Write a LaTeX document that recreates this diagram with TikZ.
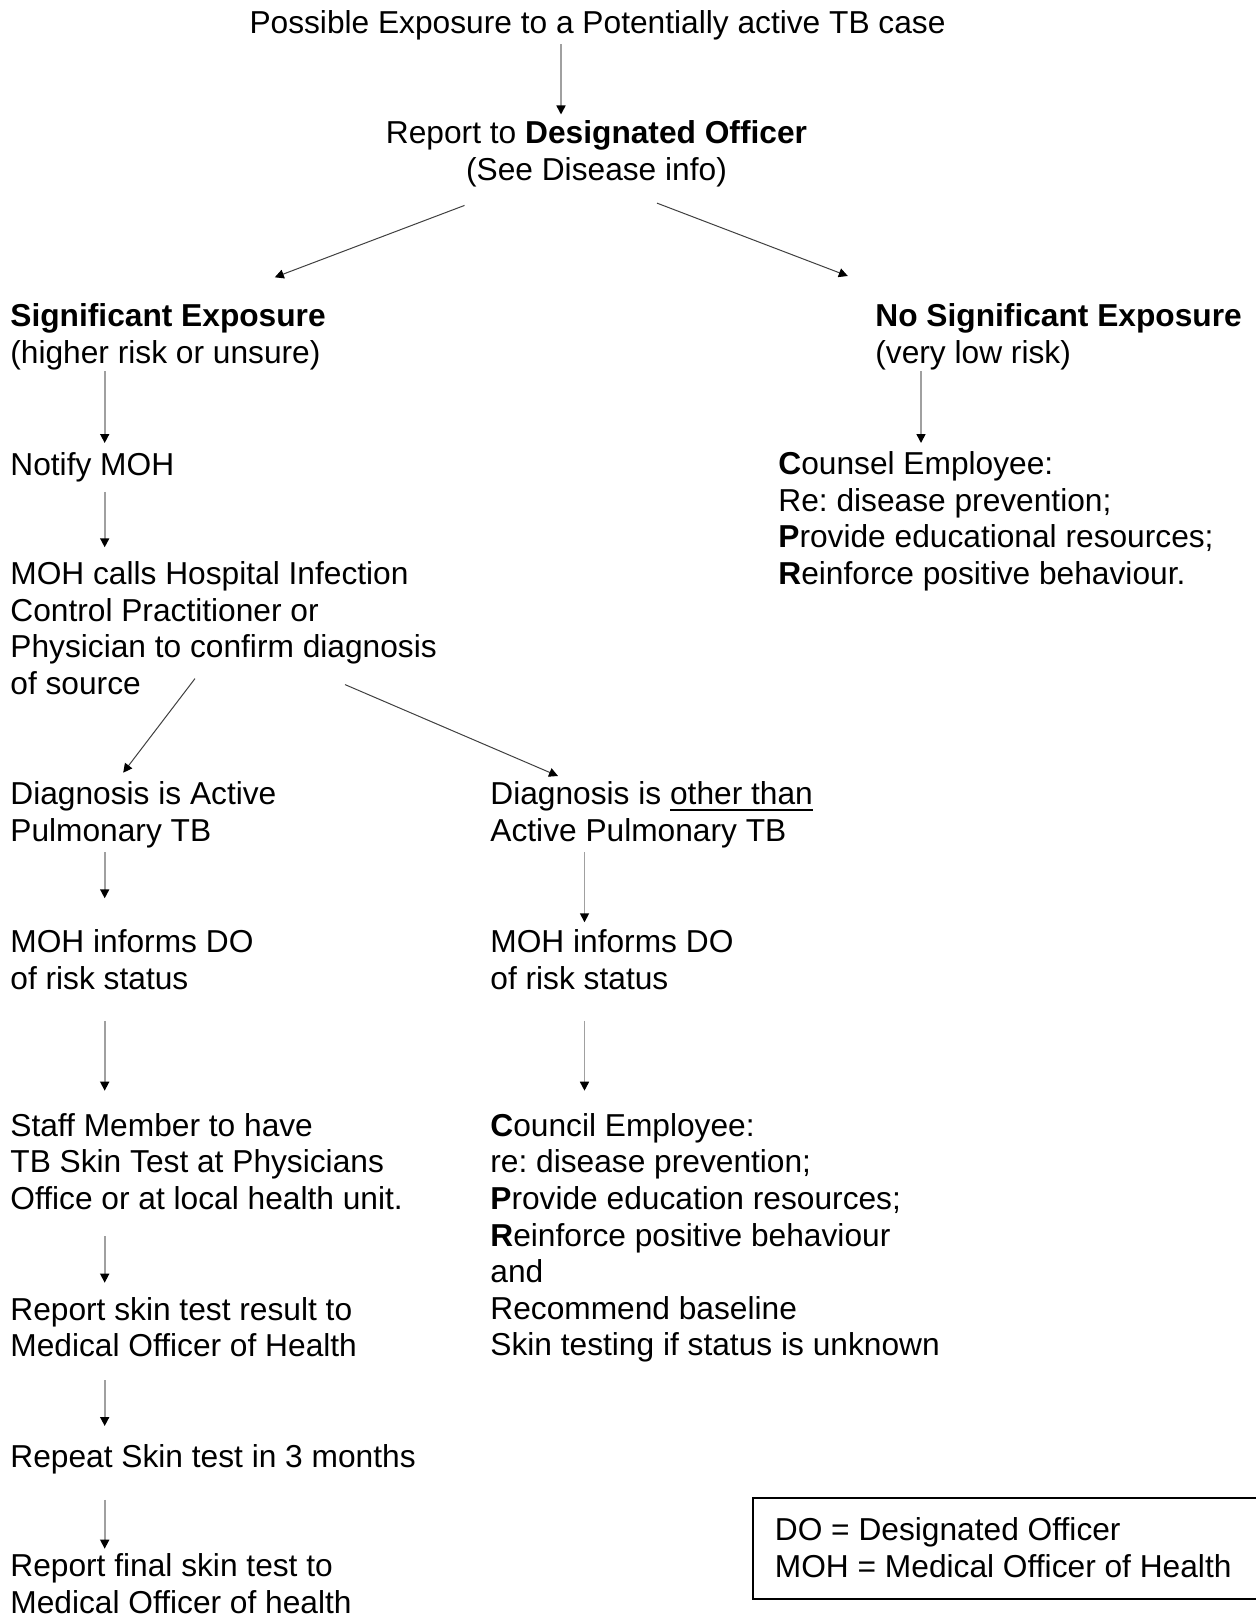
\documentclass[tikz,border=0pt]{standalone}
\usepackage{fontspec}
\setmainfont{Liberation Sans}
\usetikzlibrary{arrows.meta,calc}
% underline with a slightly heavier, lower rule
\newcommand\undl[1]{\setbox0\hbox{#1}\rlap{\rule[-3.1pt]{\wd0}{1pt}}\box0}
\frenchspacing
\begin{document}
\begin{tikzpicture}[x=0.5pt,y=-0.5pt,
  txt/.style={inner sep=0pt, align=left, anchor=north west,
    font=\fontsize{15.85}{18.3}\selectfont},
  ctxt/.style={txt, align=center, anchor=north},
  tip/.style={-{Triangle[length=4.5pt,width=4.5pt,color=black]}},
  vlink/.style={tip, draw={rgb,255:red,160;green,160;blue,160}, line width=0.8pt},
  dlink/.style={tip, draw=black!75, line width=0.5pt},
  keybox/.style={draw=black, line width=1pt}]

\fill[white] (0,0) rectangle (1256,1616);
\useasboundingbox (0,0) rectangle (1256,1616);

% column positions of the vertical connectors
\coordinate (cT) at (561,0);
\coordinate (cA) at (104.7,0);
\coordinate (cB) at (584.5,0);
\coordinate (cC) at (921,0);

% text blocks
\node[ctxt] (top) at (597.5,10.3) {Possible Exposure to a Potentially active TB case};
\node[ctxt] (report) at (596.5,120.2) {Report to \textbf{Designated Officer}\\(See Disease info)};

\node[txt] (se) at (10,303.2) {\textbf{Significant Exposure}\\(higher risk or unsure)};
\node[txt] (nse) at (875,303.2) {\textbf{No Significant Exposure}\\(very low risk)};

\node[txt] (notify) at (10,452.2) {Notify MOH};
\node[txt] (counsel) at (778,451.2) {\textbf{C}ounsel Employee:\\Re: disease prevention;\\\textbf{P}rovide educational resources;\\\textbf{R}einforce positive behaviour.};

\node[txt] (mohcalls) at (10,561.2) {MOH calls Hospital Infection\\Control Practitioner or\\Physician to confirm diagnosis\\of source};

\node[txt] (diagA) at (10,781.2) {Diagnosis is Active\\Pulmonary TB};
\node[txt] (diagB) at (490,781.2) {Diagnosis is \undl{other than}\\Active Pulmonary TB};

\node[txt] (mohinfA) at (10,929.2) {MOH informs DO\\of risk status};
\node[txt] (mohinfB) at (490,929.2) {MOH informs DO\\of risk status};

\node[txt] (staff) at (10,1112.9) {Staff Member to have\\TB Skin Test at Physicians\\Office or at local health unit.};
\node[txt] (council) at (490,1112.9) {\textbf{C}ouncil Employee:\\re: disease prevention;\\\textbf{P}rovide education resources;\\\textbf{R}einforce positive behaviour\\and\\Recommend baseline\\Skin testing if status is unknown};

\node[txt] (reportskin) at (10,1296.7) {Report skin test result to\\Medical Officer of Health};
\node[txt] (repeat) at (10,1444.2) {Repeat Skin test in 3 months};
\node[txt] (final) at (10,1553.2) {Report final skin test to\\Medical Officer of health};

\node[txt] (legend) at (774.5,1517.2) {DO = Designated Officer\\MOH = Medical Officer of Health};

% key frame, open on the right
\draw[keybox] ($(legend.north west)+(487.5,-18.9)$) -- ($(legend.north west)+(-22,-18.9)$)
  -- ($(legend.south west)+(-22,20.7)$) -- ($(legend.south west)+(487.5,20.7)$);

% vertical connectors
\draw[vlink] ($(top.south -| cT)+(0,3.6)$) -- ($(report.north -| cT)+(0,-5.7)$);
\draw[vlink] ($(se.south -| cA)+(0,1.3)$) -- ($(notify.north -| cA)+(0,-9.2)$);
\draw[vlink] ($(nse.south -| cC)+(0,1.3)$) -- ($(counsel.north -| cC)+(0,-8.2)$);
\draw[vlink] ($(notify.south -| cA)+(0,9.3)$) -- ($(mohcalls.north -| cA)+(0,-13.9)$);
\draw[vlink] ($(diagA.south -| cA)+(0,4)$) -- ($(mohinfA.north -| cA)+(0,-30.9)$);
\draw[vlink] ($(diagB.south -| cB)+(0,4)$) -- ($(mohinfB.north -| cB)+(0,-6.9)$);
\draw[vlink] ($(mohinfA.south -| cA)+(0,31)$) -- ($(staff.north -| cA)+(0,-22.2)$);
\draw[vlink] ($(mohinfB.south -| cB)+(0,31)$) -- ($(council.north -| cB)+(0,-22.2)$);
\draw[vlink] ($(staff.south -| cA)+(0,26)$) -- ($(reportskin.north -| cA)+(0,-14)$);
\draw[vlink] ($(reportskin.south -| cA)+(0,23)$) -- ($(repeat.north -| cA)+(0,-18.2)$);
\draw[vlink] ($(repeat.south -| cA)+(0,25.3)$) -- ($(final.north -| cA)+(0,-4.5)$);

% diagonal connectors
\draw[dlink] ($(report.south)+(-132,18.3)$) -- ($(se.north west)+(264.8,-25.9)$);
\draw[dlink] ($(report.south)+(60.5,16)$) -- ($(nse.north west)+(-27.2,-27.2)$);
\draw[dlink] ($(mohcalls.south west)+(185,-16.5)$) -- ($(diagA.north west)+(113.2,-8.5)$);
\draw[dlink] ($(mohcalls.south west)+(335,-10.5)$) -- ($(diagB.north west)+(68,-5.2)$);
\end{tikzpicture}
\end{document}
